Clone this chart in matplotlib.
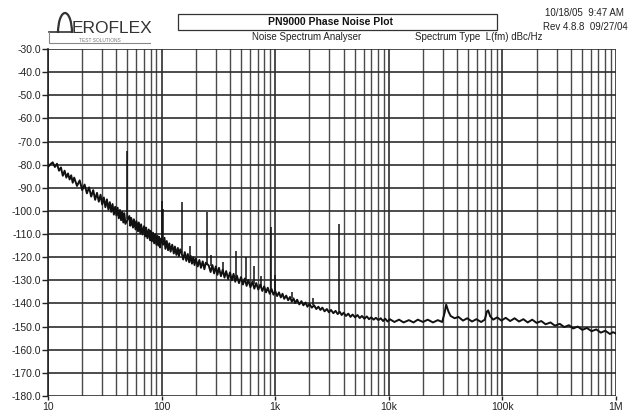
"""
PN9000 phase noise plot (Aeroflex) - recreation
"""
import matplotlib
matplotlib.use("Agg")
import matplotlib.pyplot as plt
from matplotlib.patches import Rectangle, Arc
from matplotlib.lines import Line2D
from matplotlib.ticker import FixedLocator, NullFormatter

plt.rcParams["font.family"] = ["Liberation Sans", "DejaVu Sans"]

# (offset frequency Hz, level dBc/Hz), one decade per list
trace_10 = [(10, -81.0), (10.5, -79.8), (11, -79.0), (11.5, -81.0), (12, -79.6),
            (12.5, -82.6), (13, -81.2), (13.5, -84.8), (14, -82.6), (14.5, -85.6),
            (15, -83.8), (15.5, -86.4), (16, -84.6), (16.5, -87.8), (17, -85.6),
            (18, -89.2), (19, -86.8), (20, -91.0), (21, -88.6), (22, -92.4),
            (23, -89.8), (24, -93.8), (25, -91.0), (26, -95.2), (27, -92.2),
            (28, -96.0), (29, -93.0), (30, -97.2), (31, -94.2), (32, -98.4),
            (33, -95.0), (34, -99.4), (35, -96.2), (36, -100.4), (37, -97.0),
            (38, -101.6), (39, -98.2), (40, -102.0), (41, -98.6), (42, -103.2),
            (43, -99.6), (44, -104.0), (45, -100.4), (46, -105.0), (47, -101.0),
            (48, -105.6), (52, -102.2), (53, -106.4), (54, -103.0), (56, -107.2),
            (57, -103.6), (59, -108.0), (60, -104.4), (62, -108.8), (63, -105.0),
            (65, -109.6), (66, -105.8), (68, -110.2), (70, -106.6), (72, -111.0),
            (73, -107.2), (75, -111.8), (77, -108.0), (79, -112.6), (80, -108.6),
            (82, -113.2), (84, -109.4), (86, -114.0), (88, -110.0), (90, -114.6),
            (92, -110.8), (94, -115.0), (95, -111.2), (97, -115.8), (98, -112.0)]
trace_100 = [(103, -114.6), (106, -111.6), (108, -116.4), (111, -113.0),
             (114, -117.0), (117, -114.0), (120, -117.6), (124, -114.6),
             (128, -118.4), (131, -115.4), (135, -119.0), (139, -116.0),
             (142, -119.6), (146, -116.6), (150, -118.2), (155, -121.0),
             (160, -117.8), (165, -121.6), (170, -118.6), (175, -122.2),
             (180, -119.4), (185, -122.8), (190, -120.0), (195, -123.4),
             (200, -120.6), (208, -124.0), (215, -121.2), (222, -124.6),
             (230, -121.8), (238, -125.2), (245, -122.4), (260, -123.6),
             (270, -126.4), (280, -123.4), (290, -127.0), (300, -124.0),
             (310, -127.6), (320, -124.6), (333, -128.2), (345, -125.4),
             (358, -128.8), (370, -126.0), (385, -129.4), (400, -126.6),
             (415, -130.0), (430, -127.2), (445, -130.6), (460, -128.0),
             (480, -131.2), (500, -128.6), (520, -131.8), (540, -129.2),
             (560, -132.4), (580, -129.8), (605, -133.0), (630, -130.6),
             (655, -133.6), (680, -131.2), (710, -134.0), (740, -131.8),
             (770, -134.6), (800, -132.6), (830, -135.2), (860, -133.2),
             (895, -135.8), (930, -133.8), (965, -136.2)]
trace_1k = [(1000, -134.6), (1040, -136.8), (1080, -135.2), (1120, -137.4),
            (1160, -135.8), (1200, -138.0), (1250, -136.6), (1300, -138.6),
            (1350, -137.2), (1400, -139.2), (1450, -137.8), (1500, -139.8),
            (1560, -138.4), (1630, -140.4), (1700, -139.0), (1770, -140.8),
            (1850, -139.6), (1920, -141.4), (2000, -140.2), (2100, -141.8),
            (2200, -140.8), (2300, -142.4), (2400, -141.4), (2500, -142.8),
            (2600, -141.8), (2720, -143.4), (2850, -142.4), (2970, -143.8),
            (3100, -142.8), (3250, -144.2), (3400, -143.2), (3550, -144.6),
            (3700, -143.6), (3850, -145.0), (4000, -144.0), (4200, -145.4),
            (4400, -144.4), (4600, -145.8), (4800, -144.8), (5050, -146.0),
            (5300, -145.0), (5550, -146.3), (5800, -145.4), (6100, -146.6),
            (6400, -145.6), (6700, -146.8), (7000, -146.0), (7350, -147.0),
            (7700, -146.2), (8100, -147.2), (8500, -146.4), (8900, -147.6),
            (9300, -146.6), (9750, -147.8)]
trace_10k = [(10200, -146.8), (11200, -148.0), (12300, -147.0), (13500, -148.2),
             (15000, -147.2), (16500, -148.2), (18000, -147.0), (20000, -148.0),
             (22000, -147.0), (24500, -148.2), (27000, -147.2), (29500, -148.0),
             (31000, -144.0), (32000, -140.5), (33500, -143.5), (35000, -145.4),
             (38000, -146.4), (41000, -145.8), (45000, -147.4), (49000, -146.4),
             (54000, -147.8), (59000, -146.8), (65000, -148.0), (70000, -147.0),
             (73000, -143.5), (75000, -143.0), (78000, -145.5), (83000, -147.0),
             (90000, -146.0), (98000, -147.4)]
trace_100k = [(107000, -146.2), (117000, -147.6), (128000, -146.4),
              (140000, -147.8), (153000, -146.8), (167000, -148.2),
              (183000, -147.0), (200000, -148.4), (220000, -147.6),
              (240000, -149.0), (265000, -148.2), (290000, -149.6),
              (320000, -148.8), (350000, -150.2), (385000, -149.4),
              (420000, -150.8), (460000, -150.0), (505000, -151.4),
              (555000, -150.6), (610000, -152.0), (670000, -151.2),
              (735000, -152.6), (805000, -151.8), (885000, -153.2),
              (940000, -152.4), (1000000, -153.0)]

# discrete spurs: frequency, foot level, peak level
spur_freq = [50, 100, 102, 150, 178, 250, 270, 350, 450, 550, 650, 750, 910,
             1000, 1400, 2170, 3630]
spur_base = [-103.5, -112.5, -113.0, -118.0, -120.0, -123.5, -124.0, -126.0,
             -128.5, -130.5, -131.5, -133.0, -134.5, -135.0, -137.5, -140.8,
             -143.6]
spur_top = [-74.0, -95.5, -99.0, -96.0, -115.0, -100.3, -119.0, -122.0, -117.5,
            -119.8, -124.0, -128.0, -107.0, -127.7, -135.0, -137.7, -105.5]

yticks = list(range(-30, -181, -10))
xticks = [10, 100, 1e3, 1e4, 1e5, 1e6]
xlabels = ["10", "100", "1k", "10k", "100k", "1M"]

trace = trace_10 + trace_100 + trace_1k + trace_10k + trace_100k
freq = [p[0] for p in trace]
level = [p[1] for p in trace]

W, H = 635, 415
fig = plt.figure(figsize=(W / 100, H / 100), dpi=100)
ax = fig.add_axes([48 / W, 1 - 396 / H, (616 - 48) / W, (396 - 49) / H])

ax.set_xscale("log")
ax.set_xlim(10, 1e6)
ax.set_ylim(-180, -30)

# grid
minor = [m * 10 ** e for e in range(1, 6) for m in range(2, 10)]
for f in minor:
    ax.axvline(f, color="#4a4a4a", lw=1.0, zorder=1)
for f in xticks:
    ax.axvline(f, color="#2e2e2e", lw=1.2, zorder=1)
for y in yticks:
    ax.axhline(y, color="#2e2e2e", lw=1.2, zorder=1)

ax.plot(freq, level, color="#111111", lw=1.4, zorder=3)
ax.vlines(spur_freq, spur_base, spur_top, color="#111111", lw=1.1, zorder=3)

for s in ["top", "right", "bottom"]:
    ax.spines[s].set_visible(False)
ax.spines["left"].set_color("#222222")
ax.spines["left"].set_linewidth(1.2)

ax.yaxis.set_major_locator(FixedLocator(yticks))
ax.set_yticklabels([f"{v:.1f}" for v in yticks])
ax.xaxis.set_major_locator(FixedLocator(xticks))
ax.xaxis.set_minor_locator(FixedLocator([]))
ax.xaxis.set_minor_formatter(NullFormatter())
ax.set_xticklabels(xlabels)
ax.tick_params(axis="y", direction="out", length=4, width=1.0, color="#222222",
               labelsize=7.5, pad=1, labelcolor="#222222")
ax.tick_params(axis="x", direction="out", length=3, width=1.0, color="#222222",
               labelsize=7.5, pad=1, labelcolor="#222222")


def fx(px):
    return px / W


def fy(py):
    return 1 - py / H


# header: title box
fig.add_artist(Rectangle((fx(178), fy(30)), fx(497) - fx(178), fy(14) - fy(30),
                         transform=fig.transFigure, fill=False,
                         edgecolor="#333333", lw=0.9))
fig.text(fx(330), fy(22), "PN9000 Phase Noise Plot", fontsize=7.5,
         fontweight="bold", ha="center", va="center", color="#111111")
fig.text(fx(252), fy(37), "Noise Spectrum Analyser", fontsize=7,
         ha="left", va="center", color="#222222")
fig.text(fx(415), fy(37), "Spectrum Type  L(fm) dBc/Hz", fontsize=7,
         ha="left", va="center", color="#222222")
fig.text(fx(624), fy(13), "10/18/05  9:47 AM", fontsize=7,
         ha="right", va="center", color="#222222")
fig.text(fx(628), fy(27), "Rev 4.8.8  09/27/04", fontsize=7,
         ha="right", va="center", color="#222222")

# logo
fig.add_artist(Arc((fx(65), fy(33)), fx(14), fy(13) - fy(53), theta1=0,
                   theta2=180, transform=fig.transFigure, color="#333333",
                   lw=1.6))
fig.add_artist(Line2D([fx(49), fx(71)], [fy(32), fy(32)],
                      transform=fig.transFigure, color="#333333", lw=1.2))
fig.add_artist(Line2D([fx(49), fx(49), fx(150)], [fy(32), fy(43), fy(43)],
                      transform=fig.transFigure, color="#888888", lw=0.8))
fig.text(fx(72), fy(33), "EROFLEX", fontsize=12.5, ha="left", va="baseline",
         color="#333333")
fig.text(fx(100), fy(40), "TEST SOLUTIONS", fontsize=3.5, ha="center",
         va="center", color="#777777")

fig.savefig("out.png", dpi=100)
